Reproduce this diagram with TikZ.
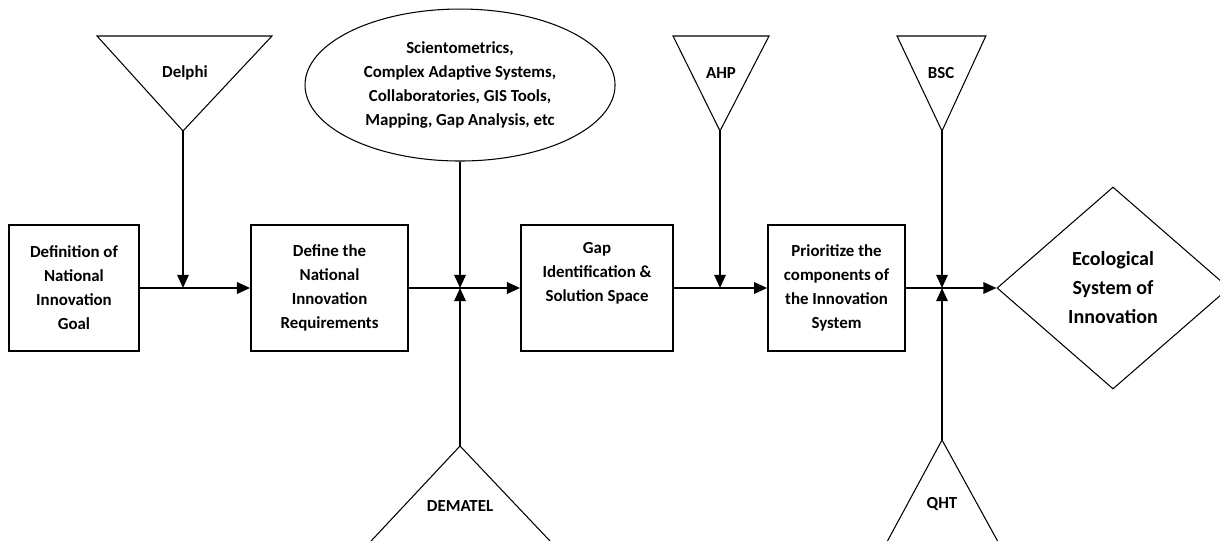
\documentclass[tikz,border=0pt]{standalone}
\usepackage{fontspec}
\setmainfont{Carlito}
\usetikzlibrary{arrows.meta, shapes.geometric}

\tikzset{
  stage/.style={draw, line width=0.8pt, align=center, inner sep=0pt, minimum height=2.1cm, font=\bfseries\fontsize{8}{11.4}\selectfont},
  tool/.style={align=center, font=\bfseries\fontsize{8}{11.4}\selectfont},
  outline/.style={line width=0.5pt, line join=miter},
  flow/.style={line width=1pt, -{Triangle[length=0.22cm,width=0.19cm]}}
}

\begin{document}
\begin{tikzpicture}
	\useasboundingbox (0,0) rectangle (20.333,9);
		% stages of the process
		\node[stage, minimum width=2.167cm] (goal) at (1.233,4.2) {Definition of\\National\\Innovation\\Goal};
		\node[stage, minimum width=2.617cm] (require) at (5.492,4.2) {Define the\\National\\Innovation\\Requirements};
		\node[stage, minimum width=2.533cm] (gap) at (9.95,4.2) {Gap\\Identification \&\\Solution Space\\\strut};
		\node[stage, minimum width=2.283cm] (prior) at (13.942,4.2) {Prioritize the\\components of\\the Innovation\\System};
		\node[diamond, draw, outline, inner sep=0pt, minimum width=3.867cm, minimum height=3.367cm, align=center, font=\bfseries\fontsize{9.5}{13.75}\selectfont] (eco) at (18.55,4.2) {Ecological\\System of\\Innovation};
		% methods above the line
		\draw[outline] (1.617,8.4) -- (4.533,8.4) -- (3.05,6.817) coordinate (delphi-tip) -- cycle;
		\node[tool] (delphi) at (3.083,7.783) {Delphi};
		\node[ellipse, draw, outline, tool, inner sep=0pt, minimum width=5.167cm, minimum height=2.533cm] (tools) at (7.667,7.583) {Scientometrics,\\Complex Adaptive Systems,\\Collaboratories, GIS Tools,\\Mapping, Gap Analysis, etc};
		\draw[outline] (11.217,8.4) -- (12.817,8.4) -- (12.0,6.817) coordinate (ahp-tip) -- cycle;
		\node[tool] (ahp) at (12.017,7.783) {AHP};
		\draw[outline] (14.95,8.4) -- (16.43,8.4) -- (15.7,6.817) coordinate (bsc-tip) -- cycle;
		\node[tool] (bsc) at (15.683,7.783) {BSC};
		% methods below the line
		\draw[outline] (6.013,-0.2) -- (7.667,1.567) coordinate (dematel-tip) -- (9.34,-0.2) -- cycle;
		\node[tool] (dematel) at (7.667,0.567) {DEMATEL};
		\draw[outline] (14.692,-0.2) -- (15.7,1.667) coordinate (qht-tip) -- (16.727,-0.2) -- cycle;
		\node[tool] (qht) at (15.7,0.6) {QHT};
		% junctions on the main line
		\coordinate (j1) at (delphi-tip |- goal);
		\coordinate (j2) at (tools |- require);
		\coordinate (j3) at (ahp-tip |- gap);
		\coordinate (j4) at (bsc-tip |- prior);
		% connectors
		\draw[flow] (goal) -- (require);
		\draw[flow] (require) -- (gap);
		\draw[flow] (gap) -- (prior);
		\draw[flow] (prior) -- (eco);
		\draw[flow] (delphi-tip) -- (j1);
		\draw[flow] (tools) -- (j2);
		\draw[flow] (dematel-tip) -- (j2);
		\draw[flow] (ahp-tip) -- (j3);
		\draw[flow] (bsc-tip) -- (j4);
		\draw[flow] (qht-tip) -- (j4);
	\end{tikzpicture}
\end{document}
